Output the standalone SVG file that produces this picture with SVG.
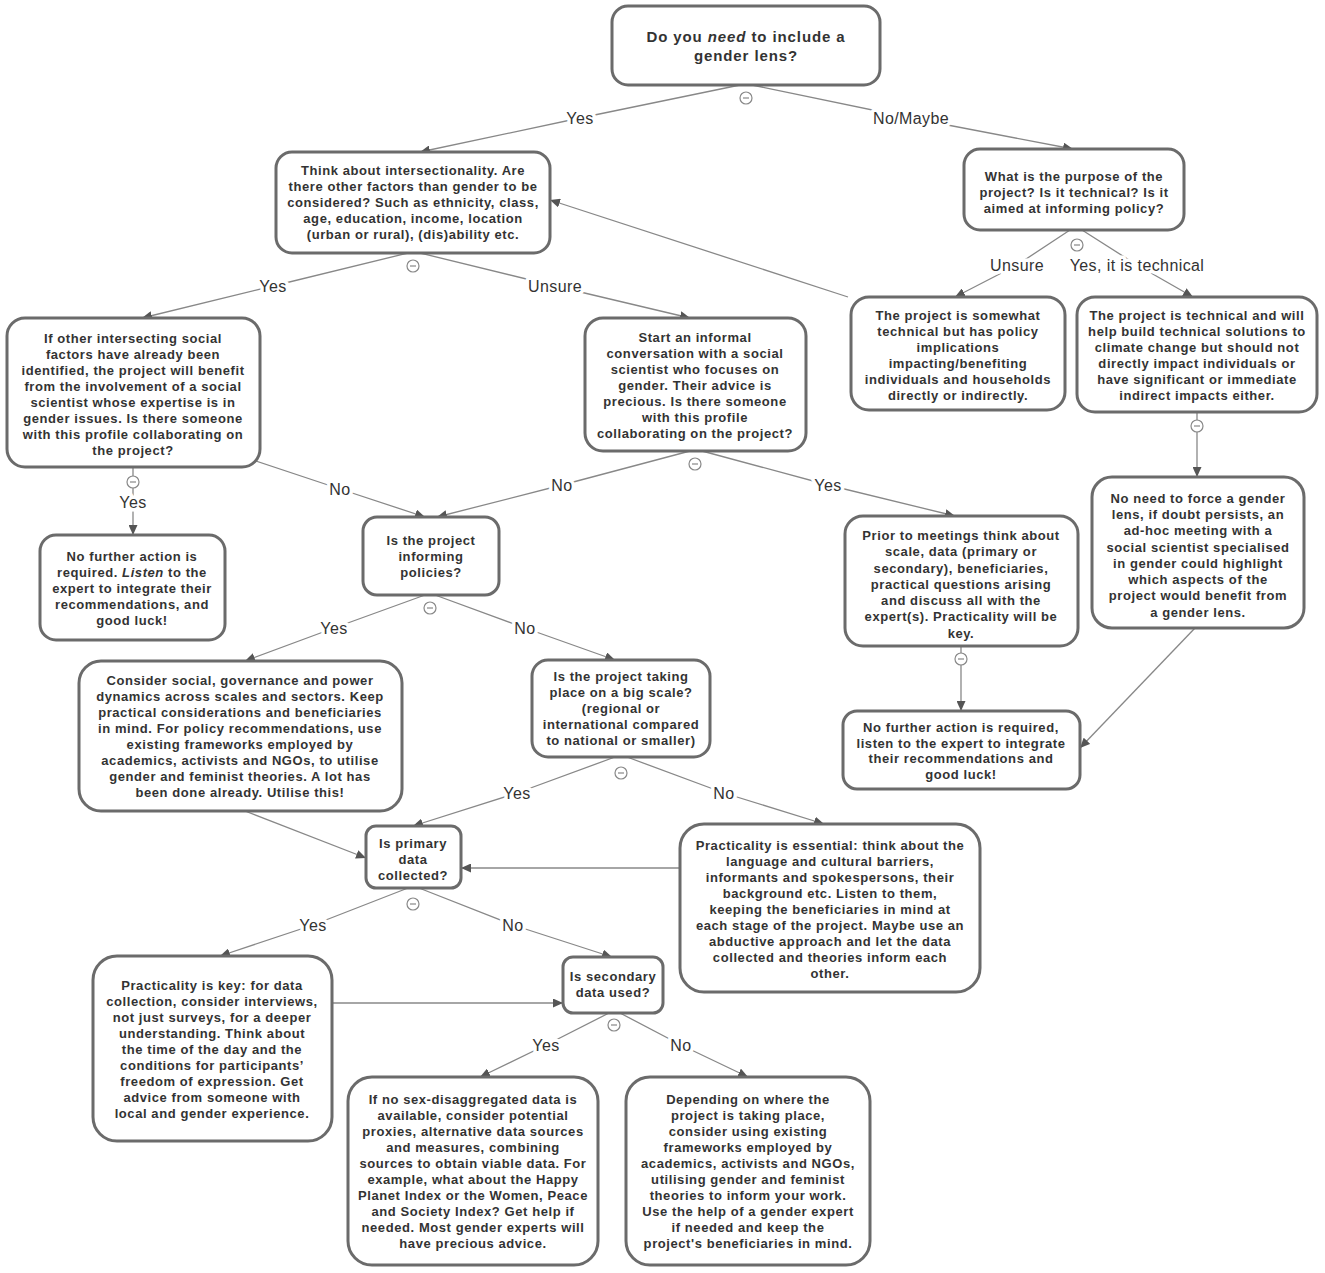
<svg xmlns="http://www.w3.org/2000/svg" xmlns:xlink="http://www.w3.org/1999/xlink" width="1325" height="1273" viewBox="0 0 1325 1273">
<style>
.node rect{fill:#fff;stroke:#6b6b6b;stroke-width:3}
.t{font-family:"Liberation Sans",Arial,sans-serif;font-weight:bold;font-size:13px;fill:#333;text-anchor:middle;letter-spacing:0.58px}
.h{font-size:15px;letter-spacing:0.9px}
.edge{fill:none;stroke:#888;stroke-width:1.3}
.lbl{font-family:"Liberation Sans",Arial,sans-serif;font-size:16px;fill:#333;text-anchor:middle;letter-spacing:0.4px;paint-order:stroke;stroke:#fff;stroke-width:7px;stroke-linejoin:round}
.col circle{fill:#fff;stroke:#888;stroke-width:1.2}
.col line{stroke:#888;stroke-width:1.2}
</style>
<defs>
<marker id="arr" markerUnits="userSpaceOnUse" markerWidth="11" markerHeight="9" refX="10" refY="4.5" orient="auto">
<path d="M0,0 L10,4.5 L0,9 z" fill="#555"/>
</marker>
<g id="minus" class="col"><circle r="6"/><line x1="-3" y1="0" x2="3" y2="0"/></g>
</defs>
<rect width="1325" height="1273" fill="#fff"/>

<g id="connectors">
<polyline class="edge" points="740,85 580,118 420,152" marker-end="url(#arr)"/>
<polyline class="edge" points="752,85 911,118 1073,149" marker-end="url(#arr)"/>
<polyline class="edge" points="408,253 273,286 142,318" marker-end="url(#arr)"/>
<polyline class="edge" points="420,253 555,286 690,318" marker-end="url(#arr)"/>
<polyline class="edge" points="1070,230 1017,265 955,297" marker-end="url(#arr)"/>
<polyline class="edge" points="1082,230 1137,265 1193,297" marker-end="url(#arr)"/>
<polyline class="edge" points="848,297 550,200" marker-end="url(#arr)"/>
<polyline class="edge" points="1197,412 1197,477" marker-end="url(#arr)"/>
<polyline class="edge" points="1195,628 1080,748" marker-end="url(#arr)"/>
<polyline class="edge" points="133,467 133,502 133,535" marker-end="url(#arr)"/>
<polyline class="edge" points="250,459 340,489 425,517" marker-end="url(#arr)"/>
<polyline class="edge" points="690,451 562,485 437,517" marker-end="url(#arr)"/>
<polyline class="edge" points="702,451 828,485 955,516" marker-end="url(#arr)"/>
<polyline class="edge" points="425,595 334,628 245,661" marker-end="url(#arr)"/>
<polyline class="edge" points="435,595 525,628 615,660" marker-end="url(#arr)"/>
<polyline class="edge" points="961,646 961,711" marker-end="url(#arr)"/>
<polyline class="edge" points="615,757 517,793 413,826" marker-end="url(#arr)"/>
<polyline class="edge" points="627,757 724,793 824,824" marker-end="url(#arr)"/>
<polyline class="edge" points="245,811 366,858" marker-end="url(#arr)"/>
<polyline class="edge" points="680,868 461,868" marker-end="url(#arr)"/>
<polyline class="edge" points="408,888 313,925 220,956" marker-end="url(#arr)"/>
<polyline class="edge" points="419,888 513,925 612,957" marker-end="url(#arr)"/>
<polyline class="edge" points="332,1003 563,1003" marker-end="url(#arr)"/>
<polyline class="edge" points="609,1013 546,1045 480,1077" marker-end="url(#arr)"/>
<polyline class="edge" points="620,1013 681,1045 748,1077" marker-end="url(#arr)"/>
<use href="#minus" x="746" y="98"/>
<use href="#minus" x="413" y="266"/>
<use href="#minus" x="1077" y="245"/>
<use href="#minus" x="1197" y="426"/>
<use href="#minus" x="133" y="482"/>
<use href="#minus" x="695" y="464"/>
<use href="#minus" x="430" y="608"/>
<use href="#minus" x="961" y="659"/>
<use href="#minus" x="621" y="773"/>
<use href="#minus" x="413" y="904"/>
<use href="#minus" x="614" y="1025"/>
<text class="lbl" x="580" y="124">Yes</text>
<text class="lbl" x="911" y="124">No/Maybe</text>
<text class="lbl" x="273" y="292">Yes</text>
<text class="lbl" x="555" y="292">Unsure</text>
<text class="lbl" x="1017" y="271">Unsure</text>
<text class="lbl" x="1137" y="271">Yes, it is technical</text>
<text class="lbl" x="133" y="508">Yes</text>
<text class="lbl" x="340" y="495">No</text>
<text class="lbl" x="562" y="491">No</text>
<text class="lbl" x="828" y="491">Yes</text>
<text class="lbl" x="334" y="634">Yes</text>
<text class="lbl" x="525" y="634">No</text>
<text class="lbl" x="517" y="799">Yes</text>
<text class="lbl" x="724" y="799">No</text>
<text class="lbl" x="313" y="931">Yes</text>
<text class="lbl" x="513" y="931">No</text>
<text class="lbl" x="546" y="1051">Yes</text>
<text class="lbl" x="681" y="1051">No</text>
</g>

<g id="n1" class="node"><rect x="612" y="6" width="268" height="79" rx="16"/>
<text class="t h" x="746"><tspan x="746" y="42">Do you <tspan font-style="italic">need</tspan> to include a</tspan><tspan x="746" y="61">gender lens?</tspan></text></g>

<g id="n2" class="node"><rect x="276" y="152" width="274" height="101" rx="16"/>
<text class="t"><tspan x="413" y="175">Think about intersectionality. Are</tspan><tspan x="413" y="191">there other factors than gender to be</tspan><tspan x="413" y="207">considered? Such as ethnicity, class,</tspan><tspan x="413" y="223">age, education, income, location</tspan><tspan x="413" y="239">(urban or rural), (dis)ability etc.</tspan></text></g>

<g id="n3" class="node"><rect x="964" y="149" width="220" height="81" rx="16"/>
<text class="t"><tspan x="1074" y="181">What is the purpose of the</tspan><tspan x="1074" y="197">project? Is it technical? Is it</tspan><tspan x="1074" y="213">aimed at informing policy?</tspan></text></g>

<g id="n4" class="node"><rect x="7" y="318" width="253" height="149" rx="18"/>
<text class="t"><tspan x="133" y="343">If other intersecting social</tspan><tspan x="133" y="359">factors have already been</tspan><tspan x="133" y="375">identified, the project will benefit</tspan><tspan x="133" y="391">from the involvement of a social</tspan><tspan x="133" y="407">scientist whose expertise is in</tspan><tspan x="133" y="423">gender issues. Is there someone</tspan><tspan x="133" y="439">with this profile collaborating on</tspan><tspan x="133" y="455">the project?</tspan></text></g>

<g id="n5" class="node"><rect x="585" y="318" width="221" height="133" rx="18"/>
<text class="t"><tspan x="695" y="342">Start an informal</tspan><tspan x="695" y="358">conversation with a social</tspan><tspan x="695" y="374">scientist who focuses on</tspan><tspan x="695" y="390">gender. Their advice is</tspan><tspan x="695" y="406">precious. Is there someone</tspan><tspan x="695" y="422">with this profile</tspan><tspan x="695" y="438">collaborating on the project?</tspan></text></g>

<g id="n6" class="node"><rect x="851" y="297" width="214" height="113" rx="18"/>
<text class="t"><tspan x="958" y="320">The project is somewhat</tspan><tspan x="958" y="336">technical but has policy</tspan><tspan x="958" y="352">implications</tspan><tspan x="958" y="368">impacting/benefiting</tspan><tspan x="958" y="384">individuals and households</tspan><tspan x="958" y="400">directly or indirectly.</tspan></text></g>

<g id="n7" class="node"><rect x="1077" y="297" width="240" height="115" rx="18"/>
<text class="t"><tspan x="1197" y="320">The project is technical and will</tspan><tspan x="1197" y="336">help build technical solutions to</tspan><tspan x="1197" y="352">climate change but should not</tspan><tspan x="1197" y="368">directly impact individuals or</tspan><tspan x="1197" y="384">have significant or immediate</tspan><tspan x="1197" y="400">indirect impacts either.</tspan></text></g>

<g id="n8" class="node"><rect x="1092" y="477" width="212" height="151" rx="20"/>
<text class="t"><tspan x="1198" y="503">No need to force a gender</tspan><tspan x="1198" y="519">lens, if doubt persists, an</tspan><tspan x="1198" y="535">ad-hoc meeting with a</tspan><tspan x="1198" y="552">social scientist specialised</tspan><tspan x="1198" y="568">in gender could highlight</tspan><tspan x="1198" y="584">which aspects of the</tspan><tspan x="1198" y="600">project would benefit from</tspan><tspan x="1198" y="617">a gender lens.</tspan></text></g>

<g id="n9" class="node"><rect x="40" y="535" width="185" height="105" rx="16"/>
<text class="t"><tspan x="132" y="561">No further action is</tspan><tspan x="132" y="577">required. <tspan font-style="italic">Listen</tspan> to the</tspan><tspan x="132" y="593">expert to integrate their</tspan><tspan x="132" y="609">recommendations, and</tspan><tspan x="132" y="625">good luck!</tspan></text></g>

<g id="n10" class="node"><rect x="363" y="517" width="136" height="78" rx="14"/>
<text class="t"><tspan x="431" y="545">Is the project</tspan><tspan x="431" y="561">informing</tspan><tspan x="431" y="577">policies?</tspan></text></g>

<g id="n11" class="node"><rect x="845" y="516" width="233" height="130" rx="18"/>
<text class="t"><tspan x="961" y="540">Prior to meetings think about</tspan><tspan x="961" y="556">scale, data (primary or</tspan><tspan x="961" y="573">secondary), beneficiaries,</tspan><tspan x="961" y="589">practical questions arising</tspan><tspan x="961" y="605">and discuss all with the</tspan><tspan x="961" y="621">expert(s). Practicality will be</tspan><tspan x="961" y="638">key.</tspan></text></g>

<g id="n12" class="node"><rect x="843" y="711" width="237" height="78" rx="14"/>
<text class="t"><tspan x="961" y="732">No further action is required,</tspan><tspan x="961" y="748">listen to the expert to integrate</tspan><tspan x="961" y="763">their recommendations and</tspan><tspan x="961" y="779">good luck!</tspan></text></g>

<g id="n13" class="node"><rect x="79" y="661" width="323" height="150" rx="22"/>
<text class="t"><tspan x="240" y="685">Consider social, governance and power</tspan><tspan x="240" y="701">dynamics across scales and sectors. Keep</tspan><tspan x="240" y="717">practical considerations and beneficiaries</tspan><tspan x="240" y="733">in mind. For policy recommendations, use</tspan><tspan x="240" y="749">existing frameworks employed by</tspan><tspan x="240" y="765">academics, activists and NGOs, to utilise</tspan><tspan x="240" y="781">gender and feminist theories. A lot has</tspan><tspan x="240" y="797">been done already. Utilise this!</tspan></text></g>

<g id="n14" class="node"><rect x="532" y="660" width="178" height="97" rx="16"/>
<text class="t"><tspan x="621" y="681">Is the project taking</tspan><tspan x="621" y="697">place on a big scale?</tspan><tspan x="621" y="713">(regional or</tspan><tspan x="621" y="729">international compared</tspan><tspan x="621" y="745">to national or smaller)</tspan></text></g>

<g id="n15" class="node"><rect x="366" y="826" width="95" height="62" rx="10"/>
<text class="t"><tspan x="413" y="848">Is primary</tspan><tspan x="413" y="864">data</tspan><tspan x="413" y="880">collected?</tspan></text></g>

<g id="n16" class="node"><rect x="680" y="824" width="300" height="168" rx="24"/>
<text class="t"><tspan x="830" y="850">Practicality is essential: think about the</tspan><tspan x="830" y="866">language and cultural barriers,</tspan><tspan x="830" y="882">informants and spokespersons, their</tspan><tspan x="830" y="898">background etc. Listen to them,</tspan><tspan x="830" y="914">keeping the beneficiaries in mind at</tspan><tspan x="830" y="930">each stage of the project. Maybe use an</tspan><tspan x="830" y="946">abductive approach and let the data</tspan><tspan x="830" y="962">collected and theories inform each</tspan><tspan x="830" y="978">other.</tspan></text></g>

<g id="n17" class="node"><rect x="93" y="956" width="239" height="185" rx="24"/>
<text class="t"><tspan x="212" y="990">Practicality is key: for data</tspan><tspan x="212" y="1006">collection, consider interviews,</tspan><tspan x="212" y="1022">not just surveys, for a deeper</tspan><tspan x="212" y="1038">understanding. Think about</tspan><tspan x="212" y="1054">the time of the day and the</tspan><tspan x="212" y="1070">conditions for participants’</tspan><tspan x="212" y="1086">freedom of expression. Get</tspan><tspan x="212" y="1102">advice from someone with</tspan><tspan x="212" y="1118">local and gender experience.</tspan></text></g>

<g id="n18" class="node"><rect x="563" y="957" width="100" height="56" rx="10"/>
<text class="t"><tspan x="613" y="981">Is secondary</tspan><tspan x="613" y="997">data used?</tspan></text></g>

<g id="n19" class="node"><rect x="348" y="1077" width="250" height="188" rx="24"/>
<text class="t"><tspan x="473" y="1104">If no sex-disaggregated data is</tspan><tspan x="473" y="1120">available, consider potential</tspan><tspan x="473" y="1136">proxies, alternative data sources</tspan><tspan x="473" y="1152">and measures, combining</tspan><tspan x="473" y="1168">sources to obtain viable data. For</tspan><tspan x="473" y="1184">example, what about the Happy</tspan><tspan x="473" y="1200">Planet Index or the Women, Peace</tspan><tspan x="473" y="1216">and Society Index? Get help if</tspan><tspan x="473" y="1232">needed. Most gender experts will</tspan><tspan x="473" y="1248">have precious advice.</tspan></text></g>

<g id="n20" class="node"><rect x="626" y="1077" width="244" height="188" rx="24"/>
<text class="t"><tspan x="748" y="1104">Depending on where the</tspan><tspan x="748" y="1120">project is taking place,</tspan><tspan x="748" y="1136">consider using existing</tspan><tspan x="748" y="1152">frameworks employed by</tspan><tspan x="748" y="1168">academics, activists and NGOs,</tspan><tspan x="748" y="1184">utilising gender and feminist</tspan><tspan x="748" y="1200">theories to inform your work.</tspan><tspan x="748" y="1216">Use the help of a gender expert</tspan><tspan x="748" y="1232">if needed and keep the</tspan><tspan x="748" y="1248">project's beneficiaries in mind.</tspan></text></g>
</svg>
